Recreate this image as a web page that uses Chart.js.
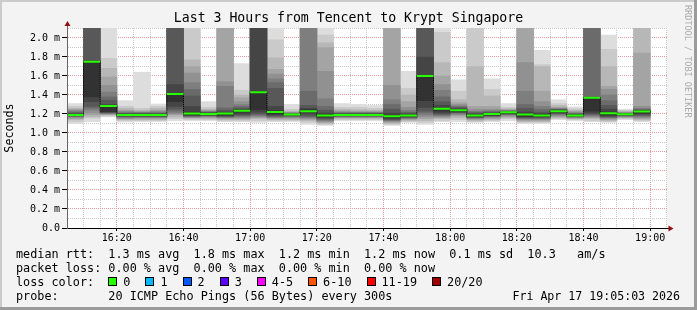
<!DOCTYPE html>
<html>
<head>
<meta charset="utf-8">
<title>Last 3 Hours from Tencent to Krypt Singapore</title>
<script src="https://cdn.jsdelivr.net/npm/chart.js@4.4.1/dist/chart.umd.min.js"></script>
<style>
  html, body { margin: 0; padding: 0; background: #f3f3f3; }
  #wrap { position: relative; width: 697px; height: 310px; overflow: hidden; }
  #chart { position: absolute; left: 0; top: 0; }
  .row { position: absolute; left: 16px; height: 14px; font: 11.8px/14px 'DejaVu Sans Mono', monospace; white-space: pre; color: #000; }
  .box { display: inline-block; width: 7px; height: 7px; border: 1px solid #000; margin-right: 6px; }
  .lbl { margin-right: 15px; }
  #stamp { position: absolute; right: 17px; top: 289px; height: 14px; font: 11.6px/14px 'DejaVu Sans Mono', monospace; white-space: pre; color: #000; }
  #side { position: absolute; left: 683px; top: 5px; writing-mode: vertical-rl; font: 8.5px/10px 'DejaVu Sans Mono', monospace; color: #aaaaaa; white-space: pre; }
</style>
</head>
<body>
<div id="wrap">
  <canvas id="chart" width="697" height="310"></canvas>
  <div class="row" id="row1" style="top:247px"></div>
  <div class="row" id="row2" style="top:261px"></div>
  <div class="row" id="row3" style="top:275px"></div>
  <div class="row" id="row4" style="top:289px"></div>
  <div id="stamp"></div>
  <div id="side">RRDTOOL / TOBI OETIKER</div>
</div>
<script>
// ---------------- data ----------------
const chartTitle = 'Last 3 Hours from Tencent to Krypt Singapore';
const graphStart = '16:05:03';
const graphEnd = '19:05:03';
const intervalStarts = ['16:05','16:10','16:15','16:20','16:25','16:30','16:35','16:40','16:45','16:50','16:55',
  '17:00','17:05','17:10','17:15','17:20','17:25','17:30','17:35','17:40','17:45','17:50','17:55',
  '18:00','18:05','18:10','18:15','18:20','18:25','18:30','18:35','18:40','18:45','18:50','18:55'];
// median round trip time (ms) per interval
const medianRtt = [1.19,1.75,1.285,1.19,1.19,1.19,1.41,1.205,1.20,1.205,1.235,1.43,1.22,1.195,1.23,1.185,1.19,1.19,1.19,1.175,
  1.185,1.60,1.255,1.24,1.185,1.20,1.217,1.195,1.183,1.228,1.183,1.37,1.207,1.197,1.225];
// sorted pings (ms), rank 1 (fastest) .. rank 20 (slowest); 2.3 = above the graph top
const ping1  = [1.10,1.12,1.17,1.115,1.12,1.12,1.13,1.13,1.13,1.12,1.12,1.11,1.12,1.12,1.09,1.08,1.13,1.13,1.13,1.08,1.11,1.09,1.12,1.12,1.11,1.12,1.13,1.10,1.10,1.14,1.13,1.12,1.11,1.14,1.12];
const ping2  = [1.12,1.155,1.18,1.13,1.13,1.13,1.15,1.14,1.14,1.13,1.13,1.13,1.13,1.13,1.11,1.09,1.14,1.14,1.14,1.09,1.12,1.11,1.13,1.14,1.12,1.13,1.15,1.11,1.11,1.15,1.14,1.13,1.12,1.15,1.13];
const ping3  = [1.14,1.17,1.19,1.14,1.14,1.14,1.17,1.15,1.15,1.14,1.14,1.15,1.14,1.14,1.13,1.10,1.15,1.15,1.15,1.10,1.13,1.13,1.15,1.16,1.13,1.14,1.16,1.12,1.12,1.16,1.15,1.15,1.13,1.16,1.14];
const ping4  = [1.15,1.19,1.195,1.15,1.15,1.15,1.19,1.16,1.16,1.15,1.15,1.16,1.15,1.15,1.14,1.11,1.16,1.16,1.16,1.11,1.14,1.15,1.16,1.18,1.14,1.15,1.17,1.13,1.13,1.17,1.155,1.16,1.14,1.165,1.15];
const ping5  = [1.16,1.21,1.20,1.155,1.16,1.16,1.20,1.165,1.17,1.16,1.16,1.17,1.16,1.16,1.15,1.12,1.165,1.165,1.165,1.12,1.15,1.17,1.17,1.19,1.15,1.16,1.18,1.14,1.14,1.18,1.16,1.17,1.15,1.17,1.16];
const ping6  = [1.17,1.24,1.205,1.16,1.165,1.165,1.21,1.17,1.175,1.165,1.17,1.18,1.165,1.17,1.16,1.13,1.17,1.17,1.17,1.13,1.155,1.19,1.18,1.20,1.155,1.17,1.19,1.15,1.15,1.19,1.165,1.18,1.16,1.175,1.17];
const ping7  = [1.175,1.26,1.21,1.17,1.17,1.17,1.23,1.175,1.18,1.17,1.18,1.19,1.17,1.175,1.17,1.14,1.175,1.175,1.175,1.135,1.16,1.21,1.19,1.21,1.16,1.175,1.195,1.155,1.155,1.20,1.17,1.19,1.165,1.18,1.18];
const ping8  = [1.18,1.28,1.215,1.175,1.175,1.175,1.25,1.18,1.185,1.175,1.19,1.20,1.18,1.18,1.18,1.15,1.18,1.18,1.18,1.14,1.165,1.23,1.20,1.215,1.165,1.18,1.20,1.16,1.16,1.205,1.175,1.20,1.17,1.185,1.19];
const ping9  = [1.185,1.33,1.22,1.18,1.18,1.18,1.28,1.185,1.19,1.18,1.20,1.22,1.19,1.185,1.20,1.16,1.185,1.185,1.185,1.15,1.17,1.27,1.21,1.22,1.17,1.185,1.205,1.17,1.17,1.21,1.18,1.21,1.18,1.19,1.20];
const ping10 = [1.19,1.38,1.225,1.185,1.185,1.185,1.33,1.195,1.195,1.19,1.22,1.245,1.20,1.19,1.22,1.17,1.19,1.19,1.19,1.16,1.18,1.34,1.23,1.225,1.175,1.19,1.21,1.175,1.175,1.22,1.183,1.23,1.19,1.195,1.21];
const ping11 = [1.195,1.75,1.29,1.195,1.195,1.195,1.40,1.22,1.205,1.21,1.24,1.43,1.235,1.196,1.245,1.195,1.195,1.195,1.195,1.185,1.19,1.60,1.26,1.245,1.19,1.205,1.22,1.20,1.195,1.235,1.19,1.37,1.22,1.20,1.23];
const ping12 = [1.20,1.76,1.30,1.20,1.20,1.20,1.51,1.28,1.21,1.22,1.25,2.3,1.28,1.198,1.26,1.21,1.20,1.20,1.20,1.21,1.20,1.80,1.29,1.255,1.20,1.21,1.222,1.22,1.205,1.24,1.195,1.375,1.25,1.203,1.235];
const ping13 = [1.21,2.3,1.345,1.205,1.205,1.205,2.3,1.39,1.215,1.24,1.26,2.3,1.47,1.20,1.29,1.24,1.205,1.205,1.205,1.25,1.21,2.3,1.33,1.265,1.21,1.215,1.225,1.26,1.22,1.245,1.20,1.38,1.29,1.205,1.24];
const ping14 = [1.22,2.3,1.38,1.21,1.21,1.21,2.3,1.46,1.22,1.265,1.28,2.3,1.53,1.205,1.44,1.28,1.21,1.21,1.21,1.30,1.22,2.3,1.38,1.275,1.22,1.225,1.23,1.30,1.25,1.25,1.205,2.3,1.34,1.207,1.25];
const ping15 = [1.23,2.3,1.43,1.22,1.215,1.22,2.3,1.53,1.225,1.49,1.30,2.3,1.57,1.21,2.3,1.36,1.215,1.215,1.215,1.35,1.24,2.3,1.45,1.285,1.23,1.235,1.235,1.44,1.28,1.255,1.21,2.3,1.40,1.21,1.26];
const ping16 = [1.24,2.3,1.50,1.23,1.22,1.23,2.3,1.63,1.23,1.54,1.33,2.3,1.62,1.215,2.3,1.65,1.225,1.22,1.22,1.50,1.27,2.3,1.51,1.30,1.25,1.25,1.24,1.74,1.33,1.26,1.22,2.3,1.46,1.215,1.28];
const ping17 = [1.25,2.3,1.59,1.24,1.23,1.24,2.3,1.70,1.24,2.3,1.37,2.3,1.67,1.22,2.3,1.90,1.235,1.23,1.23,2.3,1.33,2.3,1.60,1.32,1.28,1.28,1.245,2.3,1.44,1.27,1.23,2.3,1.49,1.22,1.84];
const ping18 = [1.26,2.3,1.68,1.26,1.24,1.26,2.3,1.77,1.25,2.3,1.40,2.3,1.79,1.23,2.3,1.95,1.25,1.245,1.24,2.3,1.40,2.3,1.74,1.35,1.70,1.39,1.255,2.3,1.70,1.29,1.24,2.3,1.70,1.23,2.3];
const ping19 = [1.28,2.3,1.786,1.28,1.26,1.28,2.3,2.3,1.27,2.3,1.45,2.3,1.98,1.25,2.3,2.03,1.27,1.27,1.26,2.3,1.47,2.3,2.06,1.44,2.3,1.46,1.27,2.3,1.72,1.31,1.255,2.3,1.88,1.235,2.3];
const ping20 = [1.31,2.3,2.3,1.34,1.64,1.305,2.3,2.3,1.33,2.3,1.73,2.3,2.3,1.30,2.3,2.3,1.31,1.30,1.29,2.3,1.65,2.3,2.3,1.56,2.3,1.57,1.31,2.3,1.87,1.35,1.275,2.3,2.03,1.25,2.3];
const yTickLabels = ['0.0','0.2 m','0.4 m','0.6 m','0.8 m','1.0 m','1.2 m','1.4 m','1.6 m','1.8 m','2.0 m'];
const xTickLabels = ['16:20','16:40','17:00','17:20','17:40','18:00','18:20','18:40','19:00'];
const yAxisMax = 2.105;
const rttStats = ['1.3 ms avg','1.8 ms max','1.2 ms min','1.2 ms now','0.1 ms sd','10.3   am/s'];
const lossStats = ['0.00 % avg','0.00 % max','0.00 % min','0.00 % now'];
const lossLabels = ['0','1','2','3','4-5','6-10','11-19','20/20'];
const lossColors = ['#26ff00','#00b8ff','#0059ff','#5e00ff','#ff00ff','#ff5500','#ff0000','#a10000'];
const probeText = '20 ICMP Echo Pings (56 Bytes) every 300s';
const stampText = 'Fri Apr 17 19:05:03 2026';

// ---------------- build ----------------
const pingRanks = [ping1,ping2,ping3,ping4,ping5,ping6,ping7,ping8,ping9,ping10,
                   ping11,ping12,ping13,ping14,ping15,ping16,ping17,ping18,ping19,ping20];
function toMin(t) { const p = t.split(':').map(Number); return (p[0] - 16) * 60 + p[1] + (p[2] || 0) / 60; }
const STEP = 5;
const centers = intervalStarts.map(t => toMin(t) + STEP / 2);
const xMin = toMin(graphStart), xMax = toMin(graphEnd);
const xMajor = xTickLabels.map(toMin);

const MONO = "'DejaVu Sans Mono', monospace";
const MAJOR_GRID = '#e49a9a';
const MINOR_GRID = '#c9c9c9';

const datasets = [];
// median: green per-interval segments (loss 0 colour)
const greenPts = [];
intervalStarts.forEach((t, i) => {
  const s = toMin(t);
  greenPts.push({x: s, y: medianRtt[i]}, {x: s + STEP, y: medianRtt[i]}, {x: s + STEP, y: null});
});
datasets.push({type: 'line', label: 'median', data: greenPts, borderColor: lossColors[0], borderWidth: 2,
  pointRadius: 0, tension: 0, spanGaps: false, order: 0});
// median step connector
const stepPts = [];
intervalStarts.forEach((t, i) => {
  const s = toMin(t);
  stepPts.push({x: s, y: medianRtt[i]}, {x: s + STEP, y: medianRtt[i]});
});
datasets.push({type: 'line', label: 'median step', data: stepPts, borderColor: '#000', borderWidth: 1,
  borderDash: [1, 1], pointRadius: 0, tension: 0, order: 1});
// smoke bands (SmokePing style)
const half = pingRanks.length / 2;
for (let k = 1; k <= half; k++) {
  const lo = pingRanks[k - 1], hi = pingRanks[pingRanks.length - k];
  const g = Math.floor(190 / half * (half - k)) + 50;
  datasets.push({
    type: 'bar', label: 'smoke' + k,
    data: centers.map((x, i) => ({x: x, y: [lo[i], hi[i]]})),
    backgroundColor: 'rgb(' + g + ',' + g + ',' + g + ')',
    borderWidth: 0, grouped: false, barPercentage: 1, categoryPercentage: 1,
    order: 20 - k
  });
}

const framePlugin = {
  id: 'frame',
  beforeDraw(chart) {
    const {ctx, chartArea: a, width: w, height: h} = chart;
    ctx.save();
    ctx.fillStyle = '#f3f3f3'; ctx.fillRect(0, 0, w, h);
    ctx.fillStyle = '#cbcbcb'; ctx.fillRect(0, 0, w, 2); ctx.fillRect(0, 0, 2, h);
    ctx.fillStyle = '#9b9b9b'; ctx.fillRect(0, h - 3, w, 3); ctx.fillRect(w - 3, 0, 3, h);
    ctx.fillStyle = '#ffffff'; ctx.fillRect(a.left, a.top, a.right - a.left, a.bottom - a.top);
    ctx.restore();
  }
};
const arrowPlugin = {
  id: 'arrows',
  afterDraw(chart) {
    const {ctx, chartArea: a} = chart;
    ctx.save();
    const xl = a.left + 0.5, yb = a.bottom + 0.5;
    ctx.strokeStyle = '#666'; ctx.lineWidth = 1;
    ctx.beginPath(); ctx.moveTo(xl, a.top); ctx.lineTo(xl, a.top - 3); ctx.stroke();
    ctx.strokeStyle = '#000';
    ctx.beginPath(); ctx.moveTo(a.right, yb); ctx.lineTo(a.right + 2, yb); ctx.stroke();
    ctx.fillStyle = '#8f1010';
    ctx.beginPath(); ctx.moveTo(xl, a.top - 7); ctx.lineTo(xl - 3, a.top - 2); ctx.lineTo(xl + 3, a.top - 2); ctx.closePath(); ctx.fill();
    ctx.beginPath(); ctx.moveTo(a.right + 6.5, yb); ctx.lineTo(a.right + 1.5, yb - 3); ctx.lineTo(a.right + 1.5, yb + 3); ctx.closePath(); ctx.fill();
    ctx.restore();
  }
};

new Chart(document.getElementById('chart'), {
  type: 'bar',
  data: {datasets: datasets},
  plugins: [framePlugin, arrowPlugin],
  options: {
    responsive: false, animation: false, devicePixelRatio: 1,
    layout: {padding: {left: 0, right: 0, top: 0, bottom: 62}},
    plugins: {
      legend: {display: false}, tooltip: {enabled: false},
      title: {display: true, text: chartTitle, color: '#000',
        font: {family: MONO, size: 13.2, weight: 'normal'}, padding: {top: 11, bottom: 1.16}}
    },
    scales: {
      x: {
        type: 'linear', min: xMin, max: xMax, offset: false,
        afterFit(s) { s.height = 20; },
        afterBuildTicks(s) {
          const t = [];
          for (let v = Math.ceil(xMin / STEP) * STEP; v <= xMax; v += STEP) t.push({value: v});
          s.ticks = t;
        },
        ticks: {autoSkip: false, maxRotation: 0, padding: 1, color: '#000', font: {family: MONO, size: 10},
          callback(v) { const i = xMajor.indexOf(v); return i >= 0 ? xTickLabels[i] : ''; }},
        grid: {offset: false, z: -1, lineWidth: 1, tickLength: 3, tickWidth: 1,
          color: c => (c.tick && xMajor.indexOf(c.tick.value) >= 0) ? MAJOR_GRID : MINOR_GRID,
          tickColor: c => (c.tick && xMajor.indexOf(c.tick.value) >= 0) ? '#000' : 'rgba(0,0,0,0)'},
        border: {display: true, color: '#000', width: 1, dash: [1, 1], z: 1}
      },
      y: {
        type: 'linear', position: 'left', min: 0, max: yAxisMax,
        afterFit(s) { s.width = 67; },
        afterBuildTicks(s) {
          const t = [];
          for (let i = 0; i <= Math.floor(yAxisMax * 10 + 1e-9); i++) t.push({value: i / 10});
          s.ticks = t;
        },
        ticks: {autoSkip: false, padding: 2, color: '#000', font: {family: MONO, size: 10},
          callback(v, i) { return (i % 2 === 0 && i / 2 < yTickLabels.length) ? yTickLabels[i / 2] : ''; }},
        grid: {z: -1, lineWidth: 1, tickLength: 5, tickWidth: 1,
          color: c => (c.index % 2 === 0) ? MAJOR_GRID : MINOR_GRID,
          tickColor: c => (c.index % 2 === 0) ? '#000' : 'rgba(0,0,0,0)'},
        border: {display: true, color: '#666', width: 1, dash: [1, 1], z: 1},
        title: {display: true, text: 'Seconds', color: '#000', font: {family: MONO, size: 11.7}, padding: {top: 3, bottom: 0}}
      },
      yR: {
        type: 'linear', position: 'right', display: true,
        afterFit(s) { s.width = 30; },
        grid: {display: false, drawTicks: false}, ticks: {display: false}, border: {display: false}
      }
    }
  }
});

// ---------------- legend text ----------------
document.getElementById('row1').textContent = 'median rtt:  ' + rttStats.slice(0, 5).join('  ') + '  ' + rttStats[5];
document.getElementById('row2').textContent = 'packet loss: ' + lossStats.join('  ');
const row3 = document.getElementById('row3');
row3.appendChild(document.createTextNode('loss color:  '));
lossLabels.forEach((l, i) => {
  const b = document.createElement('span'); b.className = 'box'; b.style.background = lossColors[i]; row3.appendChild(b);
  const s = document.createElement('span'); s.className = 'lbl'; s.textContent = l; row3.appendChild(s);
});
document.getElementById('row4').textContent = 'probe:       ' + probeText;
document.getElementById('stamp').textContent = stampText;
</script>
</body>
</html>
